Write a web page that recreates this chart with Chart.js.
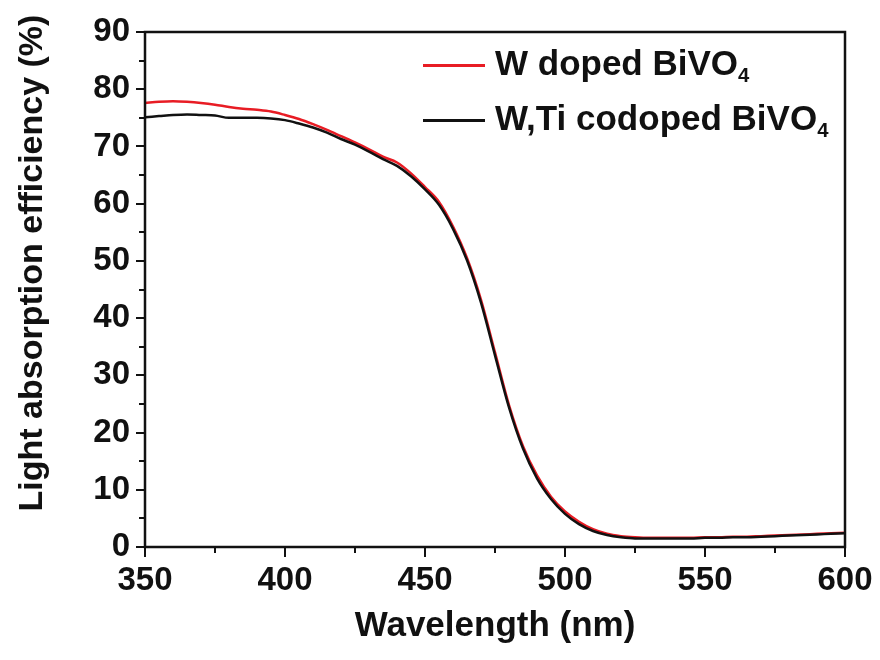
<!DOCTYPE html>
<html>
<head>
<meta charset="utf-8">
<script src="https://cdn.jsdelivr.net/npm/chart.js@4"></script>
<style>
  body { margin: 0; background: #fff; }
  #wrap { position: relative; width: 880px; height: 660px; }
  .leg-line { position: absolute; left: 423px; width: 62px; height: 3px; }
  .leg-text { position: absolute; left: 495px; font: bold 35px "Liberation Sans", Arial, sans-serif;
              line-height: 40px; color: #111; white-space: nowrap; }
  .leg-text sub { font-size: 58%; line-height: 0; vertical-align: -0.35em; }
</style>
</head>
<body>
<div id="wrap">
  <canvas id="chart" width="880" height="660"></canvas>
</div>
<script>
// Wavelength (nm)
const wavelengths = [350, 355, 360, 365, 370, 375, 380, 385, 390, 395,
  400, 405, 410, 415, 420, 425, 430, 435, 440, 445,
  450, 455, 460, 465, 470, 475, 480, 485, 490, 495,
  500, 505, 510, 515, 520, 525, 530, 535, 540, 545,
  550, 555, 560, 565, 570, 575, 580, 585, 590, 595, 600];

// W doped BiVO4
const wDoped = [77.6, 77.8, 77.9, 77.8, 77.6, 77.3, 76.9, 76.6, 76.4, 76.1,
  75.5, 74.8, 73.9, 72.9, 71.8, 70.7, 69.5, 68.2, 67.2, 65.3,
  62.9, 60.3, 56.0, 50.5, 43.2, 34.0, 24.8, 17.6, 12.5, 8.8,
  6.2, 4.4, 3.1, 2.3, 1.9, 1.7, 1.6, 1.6, 1.6, 1.6,
  1.7, 1.7, 1.8, 1.8, 1.9, 2.0, 2.1, 2.2, 2.3, 2.4, 2.5];

// W,Ti codoped BiVO4
const wTiCodoped = [75.1, 75.3, 75.5, 75.6, 75.5, 75.4, 75.0, 75.0, 75.0, 74.9,
  74.6, 74.0, 73.3, 72.4, 71.3, 70.3, 69.1, 67.8, 66.6, 64.8,
  62.5, 59.8, 55.6, 50.1, 42.7, 33.5, 24.4, 17.2, 12.0, 8.4,
  5.8, 4.0, 2.8, 2.1, 1.7, 1.5, 1.5, 1.5, 1.5, 1.5,
  1.6, 1.6, 1.7, 1.7, 1.8, 1.9, 2.0, 2.1, 2.2, 2.3, 2.4];

const seriesNames = ['W doped BiVO4', 'W,Ti codoped BiVO4'];
const seriesColors = ['rgb(232, 28, 36)', '#111111'];

// minor tick positions
const xMinor = [375, 425, 475, 525, 575];
const yMinor = [5, 15, 25, 35, 45, 55, 65, 75, 85];

const FONT = '"Liberation Sans", Arial, sans-serif';

function toPoints(ys) {
    return wavelengths.map((x, i) => ({ x: x, y: ys[i] }));
}

// frame, minor ticks and axis titles
const decorPlugin = {
    id: 'decor',
    afterDraw(chart) {
        const ctx = chart.ctx;
        const a = chart.chartArea;
        const xs = chart.scales.x;
        const ys = chart.scales.y;
        ctx.save();
        ctx.strokeStyle = '#111';
        ctx.lineWidth = 2;
        xMinor.forEach(v => {
            const px = Math.round(xs.getPixelForValue(v));
            ctx.beginPath();
            ctx.moveTo(px, a.bottom);
            ctx.lineTo(px, a.bottom + 6);
            ctx.stroke();
        });
        yMinor.forEach(v => {
            const py = Math.round(ys.getPixelForValue(v));
            ctx.beginPath();
            ctx.moveTo(a.left - 6, py);
            ctx.lineTo(a.left, py);
            ctx.stroke();
        });
        ctx.lineWidth = 2.5;
        ctx.strokeRect(a.left, a.top, a.right - a.left, a.bottom - a.top);

        ctx.fillStyle = '#111';
        ctx.font = 'bold 35px ' + FONT;
        ctx.textAlign = 'center';
        ctx.textBaseline = 'alphabetic';
        ctx.fillText('Wavelength (nm)', (a.left + a.right) / 2, 636);

        ctx.font = 'bold 34px ' + FONT;
        ctx.translate(42, 263);
        ctx.rotate(-Math.PI / 2);
        ctx.fillText('Light absorption efficiency (%)', 0, 0);
        ctx.restore();
    }
};

const chartData = {
    datasets: [{
        label: seriesNames[0],
        data: toPoints(wDoped),
        borderColor: seriesColors[0],
        borderWidth: 2.5,
        pointRadius: 0,
        cubicInterpolationMode: 'monotone',
        order: 1
    }, {
        label: seriesNames[1],
        data: toPoints(wTiCodoped),
        borderColor: seriesColors[1],
        borderWidth: 2.5,
        pointRadius: 0,
        cubicInterpolationMode: 'monotone',
        order: 0
    }]
};

const config = {
    type: 'line',
    data: chartData,
    options: {
        responsive: false,
        animation: false,
        layout: { padding: { top: 32, right: 35, left: 0, bottom: 0 } },
        plugins: {
            legend: { display: false },
            tooltip: { enabled: false }
        },
        scales: {
            x: {
                type: 'linear',
                min: 350,
                max: 600,
                afterFit(scale) { scale.height = 113; },
                border: { display: false },
                grid: { drawOnChartArea: false, color: '#111', lineWidth: 2, tickLength: 10 },
                ticks: {
                    stepSize: 50,
                    padding: 4,
                    color: '#111',
                    font: { family: FONT, size: 33, weight: 'bold' }
                }
            },
            y: {
                min: 0,
                max: 90,
                afterFit(scale) { scale.width = 145; },
                border: { display: false },
                grid: { drawOnChartArea: false, color: '#111', lineWidth: 2, tickLength: 9 },
                ticks: {
                    stepSize: 10,
                    padding: 6,
                    color: '#111',
                    font: { family: FONT, size: 33, weight: 'bold' }
                }
            }
        }
    },
    plugins: [decorPlugin]
};

new Chart(document.getElementById('chart'), config);

// legend inside the plot, with subscript
const legendTops = [64, 119];
const wrap = document.getElementById('wrap');
seriesNames.forEach((name, i) => {
    const line = document.createElement('div');
    line.className = 'leg-line';
    line.style.top = legendTops[i] + 'px';
    line.style.background = seriesColors[i];
    wrap.appendChild(line);

    const txt = document.createElement('div');
    txt.className = 'leg-text';
    txt.style.top = (legendTops[i] - 21) + 'px';
    txt.innerHTML = name.replace(/(\d)$/, '<sub>$1</sub>');
    wrap.appendChild(txt);
});
</script>
</body>
</html>
